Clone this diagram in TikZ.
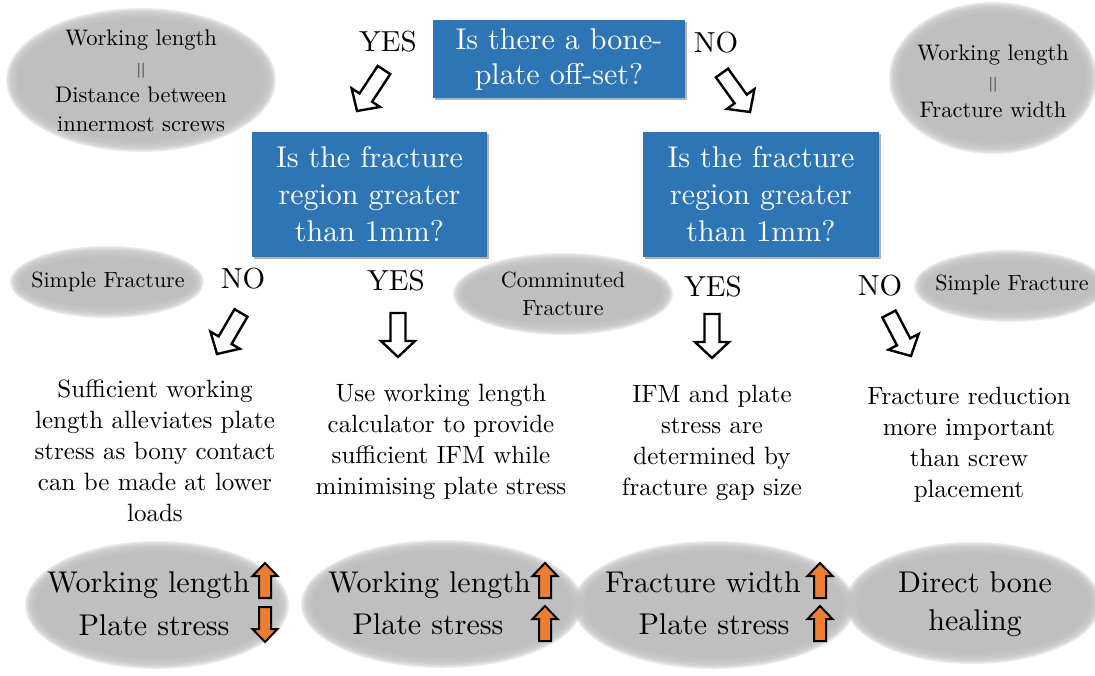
\documentclass[tikz,border=0pt]{standalone}
\usepackage{fontspec}
\setmainfont{lmroman10-regular.otf}
\usetikzlibrary{calc,shadows}

\definecolor{boxblue}{HTML}{2E75B6}
\definecolor{blobgray}{HTML}{BFBFBF}
\definecolor{uporange}{HTML}{ED7D31}

\newcommand\fsz[2]{\fontsize{#1}{#2}\selectfont}

% soft-edged grey ellipse: centre, x radius, y radius
\newcommand\softblob[3]{%
  \fill[blobgray] (#1) ellipse [x radius=#2-7, y radius=#3-7];
  \foreach \k in {0,...,8}{%
    \fill[blobgray, fill opacity=0.3] (#1) ellipse [x radius=#2-6+1.25*\k, y radius=#3-6+1.25*\k];
  }%
}

% block arrow: style, tail, tip, half shaft width, half head width, head length
\newcommand\blockarrow[6]{%
  \coordinate (#2neck) at ($(#3)!#6!(#2)$);
  \draw[#1] ($(#2)!#4!90:(#3)$)
    -- ($(#2neck)!#4!90:(#3)$)
    -- ($(#2neck)!#5!90:(#3)$)
    -- (#3)
    -- ($(#2neck)!#5!-90:(#3)$)
    -- ($(#2neck)!#4!-90:(#3)$)
    -- ($(#2)!#4!-90:(#3)$) -- cycle;
}

\begin{document}
\begin{tikzpicture}[x=1pt, y=-1pt,
  question/.style={fill=boxblue, text=white, align=center, inner sep=0pt,
    font=\fsz{30}{37},
    drop shadow={shadow xshift=2pt, shadow yshift=-2pt, opacity=0.3, fill=black}},
  answer/.style={inner sep=0pt, font=\fsz{29}{35}},
  blobtext/.style={inner sep=0pt, align=center, font=\fsz{22}{28}},
  note/.style={inner sep=0pt, align=center, anchor=north, font=\fsz{25}{31}},
  result/.style={inner sep=0pt, font=\fsz{30}{36}},
  hollow/.style={draw=black, fill=white, line width=2.4pt, line join=miter},
  updown/.style={draw=black, fill=uporange, line width=2pt, line join=miter}]
\useasboundingbox (0,0) rectangle (1095,675);

% grey ellipses behind the side notes and results
\coordinate (cwl) at (141,80);   \softblob{cwl}{131}{68}
\coordinate (cfw) at (993,78);   \softblob{cfw}{100}{72}
\coordinate (csl) at (107,282);  \softblob{csl}{93}{32}
\coordinate (ccf) at (563,294);  \softblob{ccf}{106}{37}
\coordinate (csr) at (1010,286); \softblob{csr}{92}{32}
\coordinate (cb1) at (157,605);  \softblob{cb1}{128}{60}
\coordinate (cb2) at (442,604);  \softblob{cb2}{137}{60}
\coordinate (cb3) at (714,605);  \softblob{cb3}{137}{60}
\coordinate (cb4) at (973,603);  \softblob{cb4}{124}{57}

% side notes
\node[blobtext, font=\fsz{22.5}{28.5}] (wldist) at (141,81)
  {Working length\\{\fsz{15}{15}||}\\Distance between\\innermost screws};
\node[blobtext, font=\fsz{22.5}{28.5}] (wlfrac) at (993,81)
  {Working length\\{\fsz{15}{15}||}\\Fracture width};
\node[blobtext] (simpleL) at (108,282) {Simple Fracture};
\node[blobtext] (commin) at (563,294) {Comminuted\\Fracture};
\node[blobtext] (simpleR) at (1012,285) {Simple Fracture};

% questions
\node[question, minimum width=252, minimum height=78, font=\fsz{30}{35}] (q0) at (559,59)
  {Is there a bone-\\plate off-set?};
\node[question, minimum width=235, minimum height=125] (qL) at (369.5,194.5)
  {Is the fracture\\region greater\\than 1mm?};
\node[question, minimum width=236, minimum height=125] (qR) at (761,194.5)
  {Is the fracture\\region greater\\than 1mm?};

% answers
\node[answer] (yes0) at (388,42) {YES};
\node[answer] (no0) at (716,43) {NO};
\node[answer] (noL) at (243,279) {NO};
\node[answer] (yesL) at (396,281) {YES};
\node[answer] (yesR) at (713,287) {YES};
\node[answer] (noR) at (880,286) {NO};

% hollow arrows
\coordinate (h0a) at (384,70);  \coordinate (h0b) at (357,111);
\coordinate (h1a) at (722,73);  \coordinate (h1b) at (750,112);
\coordinate (h2a) at (241,313); \coordinate (h2b) at (217,354);
\coordinate (h3a) at (398,313); \coordinate (h3b) at (398,357);
\coordinate (h4a) at (712,314); \coordinate (h4b) at (712,358);
\coordinate (h5a) at (889,314); \coordinate (h5b) at (911,356);
\blockarrow{hollow}{h0a}{h0b}{7.5pt}{17pt}{16pt}
\blockarrow{hollow}{h1a}{h1b}{7.5pt}{17pt}{16pt}
\blockarrow{hollow}{h2a}{h2b}{7.5pt}{17pt}{16pt}
\blockarrow{hollow}{h3a}{h3b}{7.5pt}{17pt}{16pt}
\blockarrow{hollow}{h4a}{h4b}{7.5pt}{17pt}{16pt}
\blockarrow{hollow}{h5a}{h5b}{7.5pt}{17pt}{16pt}

% explanations
\node[note] (t1) at (155,380)
  {Sufficient working\\length alleviates plate\\stress as bony contact\\can be made at lower\\loads};
\node[note] (t2) at (441,384)
  {Use working length\\calculator to provide\\sufficient IFM while\\minimising plate stress};
\node[note] (t3) at (712,385)
  {IFM and plate\\stress are\\determined by\\fracture gap size};
\node[note] (t4) at (969,387)
  {Fracture reduction\\more important\\than screw\\placement};

% outcomes
\node[result, anchor=base east] (wl1) at (250,592) {Working length};
\node[result, anchor=base] (ps1) at (154,635) {Plate stress};
\node[result, anchor=base east] (wl2) at (531,592) {Working length};
\node[result, anchor=base] (ps2) at (428,634) {Plate stress};
\node[result, anchor=base east] (fw3) at (801,592) {Fracture width};
\node[result, anchor=base] (ps3) at (714,634) {Plate stress};
\node[result, align=center, font=\fsz{30}{38}] (heal) at (975,604) {Direct bone\\healing};

% trend arrows
\coordinate (o1a) at (265,598); \coordinate (o1b) at (265,563);
\coordinate (o2a) at (265,607); \coordinate (o2b) at (265,642);
\coordinate (o3a) at (545,598); \coordinate (o3b) at (545,563);
\coordinate (o4a) at (545,641); \coordinate (o4b) at (545,606);
\coordinate (o5a) at (820,598); \coordinate (o5b) at (820,563);
\coordinate (o6a) at (820,641); \coordinate (o6b) at (820,606);
\blockarrow{updown}{o1a}{o1b}{6pt}{12.5pt}{13pt}
\blockarrow{updown}{o2a}{o2b}{6pt}{12.5pt}{13pt}
\blockarrow{updown}{o3a}{o3b}{6pt}{12.5pt}{13pt}
\blockarrow{updown}{o4a}{o4b}{6pt}{12.5pt}{13pt}
\blockarrow{updown}{o5a}{o5b}{6pt}{12.5pt}{13pt}
\blockarrow{updown}{o6a}{o6b}{6pt}{12.5pt}{13pt}
\end{tikzpicture}
\end{document}
